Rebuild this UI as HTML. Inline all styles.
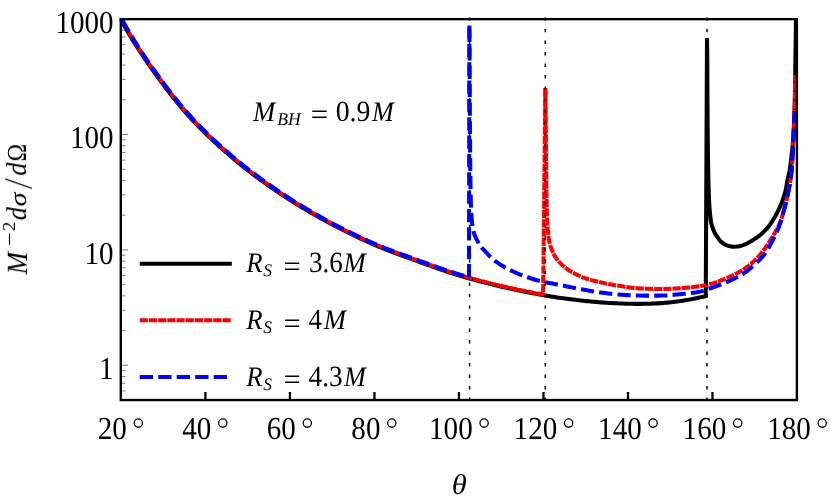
<!DOCTYPE html>
<html><head><meta charset="utf-8"><title>plot</title>
<style>html,body{margin:0;padding:0;background:#fff;}body{width:830px;height:502px;position:relative;overflow:hidden;font-family:"Liberation Serif",serif;}</style>
</head><body>
<svg width="830" height="502" viewBox="0 0 830 502" style="position:absolute;left:0;top:0">
<rect x="0" y="0" width="830" height="502" fill="#fff"/>
<path d="M121.80 365.31 h6.2 M121.80 330.58 h3.6 M121.80 310.26 h3.6 M121.80 295.84 h3.6 M121.80 284.66 h3.6 M121.80 275.53 h3.6 M121.80 267.80 h3.6 M121.80 261.11 h3.6 M121.80 255.21 h3.6 M121.80 249.93 h6.2 M121.80 215.19 h3.6 M121.80 194.87 h3.6 M121.80 180.46 h3.6 M121.80 169.27 h3.6 M121.80 160.14 h3.6 M121.80 152.41 h3.6 M121.80 145.72 h3.6 M121.80 139.82 h3.6 M121.80 134.54 h6.2 M121.80 99.80 h3.6 M121.80 79.48 h3.6 M121.80 65.07 h3.6 M121.80 53.89 h3.6 M121.80 44.75 h3.6 M121.80 37.02 h3.6 M121.80 30.33 h3.6 M121.80 24.43 h3.6 M121.80 390.91 h3.6 M121.80 383.19 h3.6 M121.80 376.50 h3.6 M121.80 370.59 h3.6" stroke="#444" stroke-width="0.7" fill="none"/>
<defs><clipPath id="c"><rect x="119.6" y="17.9" width="678.5" height="383.3"/></clipPath></defs>
<g clip-path="url(#c)" fill="none" stroke-linejoin="miter" stroke-miterlimit="2">
<path d="M120.08 18.16 L122.08 21.85 L124.08 25.45 L126.09 28.97 L128.09 32.42 L130.10 35.79 L132.10 39.10 L134.11 42.34 L136.11 45.52 L138.12 48.64 L140.12 51.71 L142.13 54.74 L144.13 57.72 L146.13 60.67 L148.14 63.58 L150.14 66.45 L152.14 69.29 L154.15 72.11 L156.15 74.90 L158.15 77.66 L160.15 80.39 L162.16 83.10 L164.16 85.77 L166.16 88.43 L168.17 91.05 L170.17 93.64 L172.18 96.20 L174.18 98.73 L176.18 101.22 L178.19 103.68 L180.19 106.09 L182.20 108.47 L184.21 110.81 L186.21 113.11 L188.22 115.37 L190.22 117.58 L192.23 119.76 L194.24 121.89 L196.24 124.00 L198.25 126.07 L200.25 128.11 L202.26 130.14 L204.26 132.13 L206.27 134.10 L208.27 136.05 L210.28 137.98 L212.28 139.88 L214.28 141.76 L216.29 143.62 L218.29 145.45 L220.30 147.27 L222.30 149.06 L224.31 150.84 L226.31 152.59 L228.31 154.33 L230.32 156.04 L232.32 157.74 L234.33 159.42 L236.33 161.08 L238.34 162.73 L240.34 164.35 L242.34 165.97 L244.35 167.56 L246.35 169.14 L248.36 170.70 L250.36 172.24 L252.36 173.77 L254.37 175.29 L256.37 176.79 L258.38 178.28 L260.38 179.75 L262.38 181.20 L264.39 182.65 L266.39 184.08 L268.40 185.49 L270.40 186.89 L272.40 188.28 L274.41 189.66 L276.41 191.02 L278.41 192.38 L280.42 193.71 L282.42 195.04 L284.43 196.36 L286.43 197.66 L288.43 198.95 L290.44 200.23 L292.44 201.49 L294.44 202.75 L296.45 204.00 L298.45 205.23 L300.45 206.45 L302.46 207.67 L304.46 208.87 L306.47 210.06 L308.47 211.24 L310.47 212.41 L312.48 213.57 L314.48 214.72 L316.48 215.86 L318.49 216.99 L320.49 218.11 L322.49 219.22 L324.50 220.32 L326.50 221.41 L328.50 222.49 L330.51 223.56 L332.51 224.62 L334.51 225.68 L336.52 226.72 L338.52 227.75 L340.52 228.78 L342.53 229.80 L344.53 230.81 L346.53 231.80 L348.54 232.79 L350.54 233.78 L352.54 234.75 L354.55 235.71 L356.55 236.67 L358.55 237.62 L360.56 238.55 L362.56 239.48 L364.56 240.41 L366.57 241.32 L368.57 242.23 L370.57 243.12 L372.58 244.01 L374.59 244.88 L376.59 245.73 L378.60 246.57 L380.60 247.39 L382.61 248.20 L384.61 249.00 L386.62 249.79 L388.62 250.56 L390.63 251.33 L392.63 252.09 L394.63 252.84 L396.64 253.58 L398.64 254.32 L400.64 255.05 L402.64 255.78 L404.64 256.51 L406.64 257.24 L408.64 257.96 L410.64 258.68 L412.64 259.41 L414.64 260.13 L416.64 260.86 L418.64 261.58 L420.64 262.31 L422.64 263.03 L424.64 263.76 L426.64 264.48 L428.64 265.21 L430.64 265.93 L432.65 266.65 L434.65 267.37 L436.65 268.08 L438.65 268.79 L440.65 269.49 L442.66 270.18 L444.66 270.87 L446.67 271.54 L448.67 272.21 L450.68 272.87 L452.68 273.51 L454.69 274.14 L456.69 274.76 L458.70 275.37 L460.71 275.96 L462.71 276.54 L464.71 277.12 L466.72 277.68 L468.72 278.24 L470.72 278.80 L472.72 279.35 L474.73 279.89 L476.73 280.43 L478.73 280.96 L480.73 281.49 L482.74 282.01 L484.74 282.53 L486.74 283.04 L488.74 283.54 L490.75 284.04 L492.75 284.54 L494.75 285.02 L496.76 285.51 L498.76 285.98 L500.76 286.45 L502.76 286.92 L504.77 287.38 L506.77 287.84 L508.77 288.28 L510.77 288.73 L512.78 289.17 L514.78 289.60 L516.78 290.03 L518.78 290.45 L520.79 290.87 L522.79 291.28 L524.79 291.69 L526.80 292.09 L528.80 292.48 L530.80 292.87 L532.80 293.25 L534.81 293.63 L536.81 294.01 L538.81 294.37 L540.81 294.73 L542.82 295.09 L544.82 295.44 L546.82 295.78 L548.83 296.12 L550.83 296.45 L552.84 296.77 L554.84 297.08 L556.84 297.39 L558.85 297.69 L560.85 297.98 L562.85 298.27 L564.86 298.55 L566.86 298.82 L568.86 299.08 L570.87 299.34 L572.87 299.59 L574.88 299.83 L576.88 300.06 L578.88 300.29 L580.89 300.51 L582.89 300.73 L584.89 300.94 L586.90 301.14 L588.90 301.33 L590.90 301.52 L592.91 301.70 L594.91 301.88 L596.91 302.04 L598.92 302.21 L600.92 302.36 L602.92 302.51 L604.93 302.65 L606.93 302.78 L608.94 302.91 L610.94 303.03 L612.94 303.14 L614.95 303.25 L616.95 303.35 L618.95 303.44 L620.96 303.52 L622.96 303.60 L624.97 303.66 L626.97 303.72 L628.98 303.77 L630.98 303.81 L632.99 303.84 L634.99 303.86 L637.00 303.87 L639.00 303.87 L641.01 303.86 L643.01 303.84 L645.02 303.81 L647.03 303.77 L649.03 303.71 L651.04 303.65 L653.05 303.57 L655.05 303.47 L657.06 303.37 L659.07 303.25 L661.07 303.12 L663.08 302.97 L665.09 302.80 L667.10 302.63 L669.10 302.43 L671.11 302.23 L673.12 302.00 L675.13 301.76 L677.14 301.51 L679.15 301.23 L681.15 300.94 L683.16 300.64 L685.17 300.31 L687.18 299.98 L689.19 299.62 L691.19 299.25 L693.20 298.86 L695.21 298.46 L697.22 298.04 L699.23 297.60 L701.24 297.14 L703.25 296.66 L705.25 296.17 L705.76 296.04 L707.00 38.00 L707.30 60.00 L707.30 61.51 L707.30 63.02 L707.31 64.54 L707.31 66.05 L707.31 67.56 L707.32 69.07 L707.32 70.58 L707.33 72.10 L707.33 73.61 L707.34 75.12 L707.34 76.63 L707.35 78.14 L707.36 79.66 L707.36 81.17 L707.37 82.68 L707.38 84.19 L707.38 85.70 L707.39 87.22 L707.40 88.73 L707.41 90.24 L707.41 91.75 L707.42 93.26 L707.43 94.78 L707.44 96.29 L707.45 97.80 L707.46 99.31 L707.47 100.82 L707.48 102.33 L707.49 103.85 L707.50 105.36 L707.51 106.87 L707.52 108.38 L707.53 109.89 L707.54 111.41 L707.55 112.92 L707.56 114.43 L707.57 115.94 L707.58 117.45 L707.59 118.97 L707.60 120.48 L707.61 121.99 L707.63 123.50 L707.64 125.01 L707.65 126.53 L707.66 128.04 L707.68 129.55 L707.69 131.06 L707.70 132.57 L707.72 134.09 L707.73 135.60 L707.75 137.11 L707.76 138.62 L707.78 140.13 L707.79 141.64 L707.81 143.16 L707.83 144.67 L707.85 146.18 L707.87 147.69 L707.88 149.20 L707.90 150.72 L707.92 152.23 L707.94 153.74 L707.97 155.25 L707.99 156.76 L708.01 158.28 L708.03 159.79 L708.05 161.30 L708.08 162.81 L708.10 164.32 L708.13 165.83 L708.15 167.35 L708.18 168.86 L708.21 170.37 L708.23 171.88 L708.26 173.39 L708.29 174.90 L708.32 176.42 L708.36 177.93 L708.39 179.44 L708.43 180.95 L708.47 182.47 L708.50 183.98 L708.55 185.49 L708.59 187.00 L708.64 188.51 L708.68 190.03 L708.73 191.54 L708.79 193.05 L708.84 194.56 L708.90 196.07 L708.96 197.58 L709.02 199.09 L709.09 200.60 L709.16 202.11 L709.23 203.62 L709.31 205.13 L709.40 206.63 L709.52 208.14 L709.65 209.65 L709.80 211.15 L709.96 212.66 L710.11 214.16 L710.27 215.67 L710.41 217.18 L710.56 218.69 L710.74 220.19 L710.95 221.68 L711.23 223.15 L711.61 224.62 L712.06 226.07 L712.54 227.51 L713.02 228.95 L713.53 230.38 L714.10 231.77 L714.77 233.11 L715.56 234.40 L716.42 235.66 L717.29 236.90 L718.15 238.15 L719.02 239.41 L719.95 240.60 L720.98 241.67 L722.15 242.65 L723.40 243.53 L724.69 244.29 L726.05 244.99 L727.46 245.58 L728.89 246.00 L730.37 246.36 L731.87 246.62 L733.38 246.70 L734.89 246.65 L736.40 246.55 L737.91 246.41 L739.39 246.17 L740.86 245.79 L742.32 245.37 L743.75 244.89 L745.17 244.35 L746.55 243.75 L747.90 243.07 L749.23 242.34 L750.54 241.59 L751.83 240.80 L753.11 239.98 L754.37 239.15 L755.64 238.32 L756.90 237.48 L758.14 236.61 L759.35 235.71 L760.52 234.77 L761.66 233.77 L762.77 232.74 L763.85 231.67 L764.91 230.59 L765.96 229.50 L766.99 228.39 L767.99 227.25 L768.94 226.08 L769.83 224.87 L770.69 223.63 L771.51 222.36 L772.32 221.07 L773.13 219.79 L773.93 218.51 L774.72 217.22 L775.49 215.92 L776.22 214.60 L776.91 213.25 L777.59 211.90 L778.24 210.54 L778.90 209.17 L779.55 207.81 L780.18 206.43 L780.78 205.05 L781.35 203.65 L781.90 202.23 L782.42 200.81 L782.91 199.39 L783.39 197.95 L783.87 196.51 L784.32 195.07 L784.76 193.62 L785.17 192.16 L785.54 190.70 L785.87 189.23 L786.16 187.75 L786.42 186.26 L786.67 184.77 L786.92 183.27 L787.17 181.78 L787.44 180.29 L787.75 178.81 L788.08 177.33 L788.43 175.86 L788.78 174.39 L789.12 172.91 L789.44 171.44 L789.71 169.95 L789.95 168.46 L790.17 166.97 L790.38 165.47 L790.58 163.97 L790.76 162.47 L790.95 160.97 L791.13 159.46 L791.30 157.96 L791.48 156.46 L791.66 154.96 L791.84 153.46 L792.01 151.95 L792.18 150.45 L792.33 148.95 L792.48 147.44 L792.62 145.94 L792.75 144.43 L792.86 142.92 L792.97 141.42 L793.07 139.91 L793.17 138.40 L793.27 136.89 L793.36 135.38 L793.45 133.87 L793.54 132.36 L793.63 130.85 L793.72 129.34 L793.81 127.83 L793.89 126.32 L793.98 124.81 L794.05 123.30 L794.12 121.79 L794.19 120.28 L794.25 118.77 L794.30 117.26 L794.36 115.75 L794.41 114.24 L794.46 112.73 L794.51 111.22 L794.56 109.71 L794.60 108.19 L794.64 106.68 L794.68 105.17 L794.72 103.66 L794.75 102.15 L794.79 100.64 L794.82 99.13 L794.85 97.61 L794.88 96.10 L794.90 94.59 L794.93 93.08 L794.96 91.57 L794.98 90.06 L795.01 88.54 L795.03 87.03 L795.05 85.52 L795.07 84.01 L795.10 82.50 L795.12 80.98 L795.14 79.47 L795.16 77.96 L795.18 76.45 L795.20 74.94 L795.22 73.43 L795.24 71.91 L795.26 70.40 L795.28 68.89 L795.30 67.38 L795.32 65.87 L795.34 64.35 L795.36 62.84 L795.38 61.33 L795.40 59.82 L795.43 58.31 L795.45 56.79 L795.47 55.28 L795.49 53.77 L795.51 52.26 L795.54 50.75 L795.56 49.24 L795.58 47.72 L795.60 46.21 L795.63 44.70 L795.65 43.19 L795.67 41.68 L795.69 40.17 L795.71 38.65 L795.74 37.14 L795.76 35.63 L795.78 34.12 L795.80 32.61 L795.82 31.09 L795.85 29.58 L795.87 28.07 L795.89 26.56 L795.91 25.05 L795.93 23.54 L795.96 22.02 L795.98 20.51 L796.00 19.00" stroke="#000" stroke-width="4.05"/>
<path d="M120.65 17.85 L122.65 21.53 L124.65 25.13 L126.65 28.65 L128.66 32.09 L130.66 35.46 L132.66 38.76 L134.66 41.99 L136.66 45.17 L138.66 48.29 L140.67 51.36 L142.67 54.38 L144.67 57.36 L146.67 60.30 L148.67 63.21 L150.67 66.08 L152.67 68.92 L154.67 71.73 L156.68 74.51 L158.68 77.27 L160.68 80.00 L162.68 82.71 L164.68 85.38 L166.68 88.03 L168.68 90.65 L170.68 93.24 L172.69 95.80 L174.69 98.32 L176.69 100.81 L178.69 103.26 L180.69 105.68 L182.70 108.05 L184.70 110.39 L186.70 112.68 L188.70 114.93 L190.70 117.15 L192.71 119.32 L194.71 121.45 L196.71 123.54 L198.71 125.61 L200.72 127.66 L202.72 129.68 L204.72 131.67 L206.72 133.64 L208.72 135.59 L210.72 137.51 L212.73 139.41 L214.73 141.28 L216.73 143.14 L218.73 144.97 L220.73 146.78 L222.73 148.58 L224.74 150.35 L226.74 152.10 L228.74 153.83 L230.74 155.55 L232.74 157.24 L234.74 158.92 L236.75 160.58 L238.75 162.22 L240.75 163.85 L242.75 165.46 L244.75 167.05 L246.75 168.62 L248.75 170.18 L250.76 171.73 L252.76 173.26 L254.76 174.77 L256.76 176.27 L258.76 177.75 L260.76 179.22 L262.77 180.68 L264.77 182.12 L266.77 183.55 L268.77 184.96 L270.77 186.36 L272.77 187.75 L274.77 189.12 L276.78 190.49 L278.78 191.84 L280.78 193.17 L282.78 194.50 L284.78 195.81 L286.78 197.11 L288.78 198.40 L290.79 199.68 L292.79 200.94 L294.79 202.20 L296.79 203.44 L298.79 204.68 L300.79 205.90 L302.79 207.11 L304.79 208.31 L306.80 209.50 L308.80 210.68 L310.80 211.85 L312.80 213.01 L314.80 214.15 L316.80 215.29 L318.80 216.42 L320.81 217.54 L322.81 218.65 L324.81 219.75 L326.81 220.84 L328.81 221.92 L330.81 222.99 L332.81 224.05 L334.81 225.10 L336.82 226.14 L338.82 227.18 L340.82 228.20 L342.82 229.22 L344.82 230.22 L346.82 231.22 L348.82 232.21 L350.82 233.19 L352.83 234.16 L354.83 235.13 L356.83 236.08 L358.83 237.03 L360.83 237.96 L362.83 238.89 L364.83 239.82 L366.83 240.73 L368.84 241.63 L370.84 242.53 L372.84 243.41 L374.84 244.28 L376.84 245.13 L378.85 245.97 L380.85 246.79 L382.85 247.60 L384.85 248.40 L386.85 249.18 L388.86 249.96 L390.86 250.72 L392.86 251.48 L394.86 252.23 L396.86 252.97 L398.86 253.71 L400.86 254.44 L402.86 255.17 L404.86 255.90 L406.86 256.62 L408.86 257.35 L410.86 258.07 L412.86 258.80 L414.86 259.52 L416.86 260.24 L418.86 260.97 L420.86 261.70 L422.86 262.42 L424.86 263.15 L426.86 263.87 L428.86 264.60 L430.86 265.32 L432.86 266.04 L434.87 266.76 L436.87 267.47 L438.87 268.17 L440.87 268.87 L442.87 269.57 L444.87 270.25 L446.87 270.93 L448.87 271.59 L450.88 272.25 L452.88 272.89 L454.88 273.52 L456.88 274.14 L458.89 274.75 L460.89 275.34 L462.89 275.92 L464.89 276.49 L466.89 277.06 L468.89 277.62 L470.89 278.17 L472.89 278.72 L474.90 279.27 L476.90 279.80 L478.90 280.34 L480.90 280.86 L482.90 281.38 L484.90 281.90 L486.90 282.41 L488.90 282.91 L490.90 283.41 L492.90 283.90 L494.91 284.39 L496.91 284.87 L498.91 285.35 L500.91 285.82 L502.91 286.29 L504.91 286.75 L506.91 287.20 L508.91 287.65 L510.91 288.09 L512.91 288.53 L514.92 288.97 L516.92 289.39 L518.92 289.81 L520.92 290.23 L522.92 290.64 L524.92 291.05 L526.92 291.45 L528.92 291.84 L530.92 292.23 L532.93 292.62 L534.93 292.99 L536.93 293.37 L538.93 293.73 L540.93 294.09 L542.93 294.45 L543.13 294.48 L545.35 88.00" stroke="#f00" stroke-width="4.05" stroke-dasharray="8.2 1.05" stroke-dashoffset="1.8"/>
<path d="M545.35 88.00 L545.60 110.00 L545.62 111.86 L545.64 113.73 L545.66 115.59 L545.67 117.46 L545.69 119.32 L545.71 121.19 L545.73 123.05 L545.75 124.92 L545.77 126.78 L545.79 128.65 L545.81 130.51 L545.82 132.38 L545.84 134.24 L545.86 136.11 L545.88 137.97 L545.90 139.84 L545.92 141.70 L545.94 143.57 L545.95 145.43 L545.97 147.29 L545.99 149.16 L546.01 151.02 L546.03 152.89 L546.05 154.75 L546.06 156.62 L546.08 158.48 L546.10 160.35 L546.11 162.21 L546.13 164.08 L546.14 165.94 L546.16 167.81 L546.18 169.67 L546.19 171.54 L546.21 173.40 L546.23 175.27 L546.25 177.13 L546.27 179.00 L546.29 180.86 L546.31 182.73 L546.33 184.59 L546.35 186.45 L546.38 188.32 L546.40 190.18 L546.43 192.05 L546.46 193.91 L546.49 195.78 L546.52 197.64 L546.56 199.51 L546.59 201.37 L546.63 203.24 L546.67 205.10 L546.72 206.97 L546.77 208.83 L546.82 210.69 L546.88 212.56 L546.95 214.42 L547.02 216.28 L547.11 218.15 L547.20 220.01 L547.29 221.87 L547.40 223.73 L547.51 225.60 L547.63 227.46 L547.77 229.32 L547.93 231.18 L548.10 233.03 L548.29 234.89 L548.52 236.74 L548.78 238.59 L549.08 240.43 L549.46 242.25 L549.93 244.06 L550.46 245.84 L551.07 247.61 L551.74 249.35 L552.43 251.09 L553.15 252.82 L553.94 254.50 L554.84 256.12 L555.87 257.68 L556.98 259.20 L558.13 260.66 L559.34 262.08 L560.62 263.45 L561.94 264.76 L563.32 266.01 L564.75 267.22 L566.22 268.38 L567.73 269.47 L569.27 270.51 L570.86 271.48 L572.48 272.41 L574.13 273.30 L575.79 274.15 L577.46 274.98 L579.15 275.78 L580.85 276.56 L582.58 277.28 L584.31 277.93 L586.07 278.53 L587.84 279.09 L589.63 279.62 L591.43 280.13 L593.24 280.61 L595.05 281.07 L596.87 281.51 L598.69 281.93 L600.50 282.34 L602.32 282.74 L604.14 283.13 L605.97 283.51 L607.80 283.88 L609.63 284.24 L611.47 284.58 L613.31 284.91 L615.15 285.23 L616.99 285.54 L618.83 285.82 L620.67 286.10 L622.51 286.37 L624.36 286.65 L626.21 286.92 L628.06 287.18 L629.91 287.44 L631.76 287.67 L633.62 287.88 L635.47 288.07 L637.33 288.23 L639.19 288.36 L641.04 288.45 L642.90 288.54 L644.77 288.62 L646.63 288.70 L648.49 288.77 L650.36 288.83 L652.23 288.89 L654.09 288.93 L655.96 288.97 L657.82 288.99 L659.69 289.00 L661.55 288.99 L663.42 288.97 L665.28 288.92 L667.14 288.86 L669.01 288.79 L670.87 288.70 L672.74 288.61 L674.60 288.51 L676.46 288.40 L678.32 288.30 L680.18 288.19 L682.04 288.07 L683.91 287.94 L685.77 287.80 L687.63 287.64 L689.49 287.46 L691.35 287.28 L693.21 287.07 L695.06 286.85 L696.91 286.62 L698.75 286.38 L700.59 286.11 L702.42 285.80 L704.26 285.44 L706.08 285.03 L707.90 284.59 L709.71 284.12 L711.51 283.64 L713.29 283.13 L715.07 282.56 L716.83 281.96 L718.59 281.32 L720.34 280.65 L722.08 279.97 L723.81 279.28 L725.53 278.57 L727.25 277.84 L728.96 277.09 L730.66 276.31 L732.34 275.51 L734.02 274.69 L735.69 273.86 L737.36 273.01 L739.01 272.14 L740.65 271.24 L742.26 270.30 L743.83 269.31 L745.36 268.27 L746.87 267.18 L748.35 266.03 L749.81 264.85 L751.23 263.63 L752.63 262.38 L753.98 261.11 L755.31 259.82 L756.62 258.49 L757.90 257.13 L759.15 255.74 L760.38 254.32 L761.58 252.88 L762.75 251.42 L763.88 249.95 L764.98 248.46 L766.05 246.94 L767.09 245.39 L768.10 243.82 L769.10 242.23 L770.08 240.64 L771.05 239.05 L772.03 237.45 L773.01 235.87 L774.00 234.28 L774.97 232.68 L775.93 231.07 L776.84 229.45 L777.70 227.80 L778.51 226.13 L779.27 224.43 L779.98 222.70 L780.65 220.96 L781.28 219.20 L781.85 217.43 L782.40 215.65 L782.92 213.86 L783.43 212.06 L783.93 210.26 L784.43 208.46 L784.92 206.66 L785.39 204.86 L785.86 203.05 L786.31 201.24 L786.73 199.43 L787.14 197.61 L787.53 195.79 L787.91 193.96 L788.28 192.13 L788.64 190.30 L789.00 188.47 L789.35 186.64 L789.70 184.81 L790.03 182.97 L790.33 181.13 L790.60 179.29 L790.86 177.44 L791.10 175.59 L791.33 173.74 L791.53 171.88 L791.70 170.03 L791.85 168.17 L791.99 166.31 L792.12 164.45 L792.25 162.59 L792.37 160.73 L792.48 158.87 L792.59 157.01 L792.69 155.14 L792.79 153.28 L792.89 151.42 L792.98 149.55 L793.07 147.69 L793.16 145.83 L793.25 143.96 L793.33 142.10 L793.42 140.24 L793.50 138.38 L793.57 136.51 L793.65 134.65 L793.72 132.79 L793.79 130.92 L793.86 129.06 L793.93 127.20 L794.00 125.33 L794.07 123.47 L794.14 121.60 L794.21 119.74 L794.28 117.88 L794.35 116.01 L794.43 114.15 L794.50 112.29 L794.57 110.42 L794.64 108.56 L794.71 106.70 L794.77 104.83 L794.82 102.97 L794.87 101.10 L794.92 99.24 L794.96 97.38 L795.00 95.51 L795.04 93.65 L795.07 91.78 L795.11 89.92 L795.14 88.05 L795.17 86.19 L795.20 84.32 L795.23 82.46 L795.25 80.59 L795.27 78.73 L795.29 76.87 L795.30 75.00" stroke="#f00" stroke-width="4.05" stroke-dasharray="8.2 1.05"/>
<path d="M121.00 17.66 L123.00 21.34 L125.00 24.94 L127.00 28.45 L129.00 31.89 L131.00 35.25 L133.00 38.55 L135.00 41.78 L137.00 44.95 L139.00 48.07 L141.00 51.14 L143.00 54.16 L145.00 57.14 L147.00 60.07 L149.00 62.98 L151.00 65.85 L153.00 68.69 L155.00 71.50 L157.00 74.28 L159.00 77.04 L161.00 79.77 L163.00 82.47 L165.00 85.14 L167.00 87.79 L169.00 90.41 L171.00 93.00 L173.00 95.55 L175.00 98.07 L177.00 100.56 L179.00 103.01 L181.00 105.42 L183.00 107.79 L185.00 110.12 L187.00 112.42 L189.00 114.67 L191.00 116.88 L193.00 119.04 L195.00 121.17 L197.00 123.27 L199.00 125.34 L201.00 127.38 L203.00 129.39 L205.00 131.39 L207.00 133.35 L209.00 135.30 L211.00 137.22 L213.00 139.12 L215.00 140.99 L217.00 142.84 L219.00 144.68 L221.00 146.49 L223.00 148.28 L225.00 150.05 L227.00 151.80 L229.00 153.53 L231.00 155.24 L233.00 156.94 L235.00 158.61 L237.00 160.27 L239.00 161.91 L241.00 163.54 L243.00 165.15 L245.00 166.74 L247.00 168.31 L249.00 169.87 L251.00 171.41 L253.00 172.94 L255.00 174.45 L257.00 175.95 L259.00 177.43 L261.00 178.90 L263.00 180.35 L265.00 181.79 L267.00 183.22 L269.00 184.63 L271.00 186.03 L273.00 187.42 L275.00 188.79 L277.00 190.15 L279.00 191.50 L281.00 192.84 L283.00 194.16 L285.00 195.48 L287.00 196.78 L289.00 198.06 L291.00 199.34 L293.00 200.61 L295.00 201.86 L297.00 203.10 L299.00 204.34 L301.00 205.56 L303.00 206.77 L305.00 207.97 L307.00 209.15 L309.00 210.33 L311.00 211.50 L313.00 212.66 L315.00 213.81 L317.00 214.94 L319.00 216.07 L321.00 217.19 L323.00 218.30 L325.00 219.40 L327.00 220.49 L329.00 221.56 L331.00 222.63 L333.00 223.69 L335.00 224.75 L337.00 225.79 L339.00 226.82 L341.00 227.85 L343.00 228.86 L345.00 229.87 L347.00 230.86 L349.00 231.85 L351.00 232.83 L353.00 233.80 L355.00 234.77 L357.00 235.72 L359.00 236.67 L361.00 237.60 L363.00 238.53 L365.00 239.45 L367.00 240.36 L369.00 241.27 L371.00 242.16 L373.00 243.04 L375.00 243.91 L377.00 244.76 L379.00 245.60 L381.00 246.42 L383.00 247.23 L385.00 248.02 L387.00 248.81 L389.00 249.58 L391.00 250.35 L393.00 251.10 L395.00 251.85 L397.00 252.60 L399.00 253.33 L401.00 254.07 L403.00 254.80 L405.00 255.52 L407.00 256.25 L409.00 256.97 L411.00 257.70 L413.00 258.42 L415.00 259.14 L417.00 259.87 L419.00 260.59 L421.00 261.32 L423.00 262.05 L425.00 262.77 L427.00 263.50 L429.00 264.22 L431.00 264.94 L433.00 265.66 L435.00 266.38 L437.00 267.09 L439.00 267.80 L441.00 268.50 L443.00 269.19 L445.00 269.87 L447.00 270.55 L449.00 271.21 L451.00 271.87 L453.00 272.51 L455.00 273.14 L457.00 273.76 L459.00 274.36 L461.00 274.96 L463.00 275.53 L465.00 276.11 L467.00 276.67 L469.00 277.23" stroke="#00f" stroke-width="4.05" stroke-dasharray="13.3 5.2" stroke-dashoffset="15.7"/>
<path d="M469.00 277.23 L469.40 25.00" stroke="#00f" stroke-width="4.05" stroke-dasharray="13.2 5.15"/>
<path d="M469.40 25.00 L469.60 60.00 L469.61 61.61 L469.61 63.23 L469.62 64.84 L469.62 66.46 L469.63 68.07 L469.64 69.68 L469.64 71.30 L469.65 72.91 L469.66 74.52 L469.66 76.14 L469.67 77.75 L469.68 79.37 L469.68 80.98 L469.69 82.59 L469.70 84.21 L469.71 85.82 L469.72 87.43 L469.72 89.05 L469.73 90.66 L469.74 92.28 L469.75 93.89 L469.76 95.50 L469.77 97.12 L469.78 98.73 L469.78 100.34 L469.79 101.96 L469.80 103.57 L469.81 105.19 L469.82 106.80 L469.83 108.41 L469.84 110.03 L469.85 111.64 L469.86 113.25 L469.87 114.87 L469.88 116.48 L469.89 118.09 L469.90 119.71 L469.91 121.32 L469.92 122.94 L469.93 124.55 L469.94 126.16 L469.95 127.78 L469.96 129.39 L469.97 131.00 L469.98 132.62 L469.99 134.23 L470.00 135.85 L470.01 137.46 L470.03 139.07 L470.04 140.69 L470.05 142.30 L470.06 143.91 L470.07 145.53 L470.09 147.14 L470.10 148.76 L470.11 150.37 L470.13 151.98 L470.14 153.60 L470.15 155.21 L470.17 156.82 L470.18 158.44 L470.20 160.05 L470.21 161.67 L470.23 163.28 L470.25 164.89 L470.26 166.51 L470.28 168.12 L470.30 169.73 L470.32 171.35 L470.33 172.96 L470.35 174.58 L470.37 176.19 L470.39 177.80 L470.41 179.42 L470.44 181.03 L470.46 182.64 L470.48 184.26 L470.51 185.87 L470.54 187.49 L470.57 189.10 L470.59 190.71 L470.63 192.33 L470.66 193.94 L470.69 195.55 L470.73 197.17 L470.77 198.78 L470.81 200.39 L470.86 202.00 L470.90 203.62 L470.96 205.23 L471.02 206.85 L471.09 208.46 L471.16 210.08 L471.24 211.69 L471.33 213.30 L471.42 214.91 L471.53 216.52 L471.64 218.13 L471.76 219.73 L471.90 221.34 L472.08 222.96 L472.28 224.57 L472.51 226.18 L472.77 227.78 L473.06 229.36 L473.37 230.93 L473.75 232.47 L474.27 233.99 L474.89 235.50 L475.55 236.99 L476.21 238.46 L476.90 239.92 L477.65 241.35 L478.43 242.76 L479.24 244.17 L480.10 245.55 L481.01 246.88 L482.03 248.10 L483.20 249.22 L484.35 250.37 L485.43 251.56 L486.50 252.78 L487.57 253.99 L488.67 255.16 L489.81 256.30 L490.99 257.40 L492.19 258.48 L493.42 259.53 L494.68 260.54 L495.96 261.52 L497.26 262.48 L498.59 263.41 L499.93 264.31 L501.28 265.18 L502.65 266.02 L504.05 266.84 L505.46 267.64 L506.88 268.41 L508.30 269.16 L509.74 269.89 L511.19 270.60 L512.65 271.29 L514.12 271.97 L515.59 272.62 L517.07 273.26 L518.56 273.89 L520.05 274.50 L521.56 275.09 L523.07 275.66 L524.58 276.21 L526.10 276.74 L527.63 277.27 L529.16 277.79 L530.70 278.30 L532.24 278.80 L533.78 279.28 L535.33 279.74 L536.88 280.18 L538.44 280.60 L539.99 281.00 L541.56 281.37 L543.13 281.73 L544.70 282.07 L546.28 282.39 L547.87 282.71 L549.45 283.01 L551.04 283.31 L552.63 283.60 L554.22 283.90 L555.81 284.19 L557.40 284.49 L558.98 284.80 L560.57 285.11 L562.15 285.43 L563.73 285.76 L565.31 286.08 L566.89 286.40 L568.47 286.73 L570.05 287.05 L571.64 287.37 L573.22 287.69 L574.80 288.01 L576.38 288.32 L577.97 288.62 L579.55 288.92 L581.14 289.21 L582.73 289.50 L584.32 289.80 L585.90 290.09 L587.49 290.38 L589.08 290.66 L590.67 290.94 L592.26 291.22 L593.86 291.48 L595.45 291.74 L597.04 291.98 L598.64 292.21 L600.24 292.43 L601.83 292.64 L603.43 292.85 L605.04 293.06 L606.64 293.26 L608.24 293.46 L609.85 293.64 L611.45 293.82 L613.06 294.00 L614.66 294.16 L616.27 294.30 L617.88 294.44 L619.49 294.56 L621.09 294.68 L622.70 294.79 L624.31 294.90 L625.92 295.01 L627.53 295.12 L629.15 295.22 L630.76 295.31 L632.37 295.40 L633.98 295.47 L635.60 295.53 L637.21 295.57 L638.82 295.59 L640.44 295.60 L642.05 295.60 L643.66 295.60 L645.28 295.60 L646.89 295.60 L648.51 295.60 L650.12 295.60 L651.74 295.60 L653.35 295.60 L654.96 295.60 L656.58 295.60 L658.19 295.60 L659.80 295.60 L661.41 295.59 L663.03 295.55 L664.64 295.48 L666.25 295.40 L667.86 295.29 L669.47 295.17 L671.08 295.04 L672.69 294.89 L674.30 294.74 L675.91 294.59 L677.52 294.43 L679.12 294.28 L680.73 294.13 L682.34 293.98 L683.95 293.82 L685.56 293.66 L687.17 293.48 L688.78 293.30 L690.39 293.10 L692.00 292.90 L693.60 292.67 L695.19 292.43 L696.78 292.18 L698.36 291.91 L699.93 291.61 L701.49 291.27 L703.04 290.85 L704.58 290.37 L706.11 289.85 L707.64 289.29 L709.16 288.73 L710.69 288.17 L712.21 287.63 L713.73 287.09 L715.25 286.55 L716.77 286.00 L718.28 285.44 L719.79 284.87 L721.30 284.28 L722.80 283.69 L724.29 283.08 L725.78 282.46 L727.26 281.82 L728.74 281.17 L730.22 280.50 L731.68 279.82 L733.13 279.13 L734.58 278.41 L736.02 277.69 L737.47 276.95 L738.91 276.20 L740.33 275.42 L741.73 274.62 L743.10 273.78 L744.44 272.91 L745.75 271.99 L747.04 271.03 L748.32 270.03 L749.57 269.00 L750.81 267.95 L752.03 266.88 L753.23 265.80 L754.42 264.72 L755.61 263.62 L756.80 262.52 L757.98 261.40 L759.15 260.26 L760.28 259.10 L761.39 257.91 L762.46 256.71 L763.47 255.48 L764.43 254.22 L765.36 252.92 L766.25 251.59 L767.11 250.22 L767.95 248.83 L768.76 247.42 L769.56 246.00 L770.34 244.58 L771.11 243.15 L771.88 241.73 L772.64 240.31 L773.40 238.88 L774.14 237.45 L774.87 236.00 L775.59 234.55 L776.28 233.09 L776.96 231.62 L777.60 230.15 L778.22 228.66 L778.81 227.17 L779.38 225.65 L779.93 224.13 L780.46 222.61 L780.96 221.07 L781.44 219.53 L781.90 217.99 L782.32 216.43 L782.74 214.87 L783.14 213.31 L783.55 211.74 L783.95 210.18 L784.37 208.62 L784.79 207.06 L785.21 205.50 L785.62 203.94 L786.02 202.38 L786.41 200.81 L786.77 199.24 L787.13 197.67 L787.47 196.09 L787.80 194.51 L788.12 192.93 L788.44 191.35 L788.75 189.76 L789.05 188.18 L789.36 186.59 L789.66 185.01 L789.95 183.42 L790.22 181.83 L790.47 180.23 L790.69 178.64 L790.91 177.04 L791.12 175.44 L791.31 173.83 L791.49 172.23 L791.65 170.62 L791.78 169.02 L791.91 167.41 L792.03 165.80 L792.14 164.19 L792.25 162.58 L792.36 160.97 L792.45 159.36 L792.55 157.75 L792.64 156.14 L792.73 154.52 L792.81 152.91 L792.89 151.30 L792.97 149.69 L793.05 148.07 L793.13 146.46 L793.21 144.85 L793.28 143.24 L793.35 141.63 L793.42 140.01 L793.48 138.40 L793.54 136.79 L793.59 135.17 L793.65 133.56 L793.71 131.95 L793.76 130.34 L793.82 128.72 L793.88 127.11 L793.95 125.50 L794.02 123.89 L794.09 122.27 L794.17 120.66 L794.25 119.05 L794.35 117.44 L794.45 115.83 L794.57 114.22 L794.68 112.61 L794.80 111.00" stroke="#00f" stroke-width="4.05" stroke-dasharray="13.2 5.2" stroke-dashoffset="14.5"/>
</g>
<path d="M469.6 401 V17" stroke="#000" stroke-width="1.5" stroke-dasharray="3.4 8.12" fill="none"/>
<path d="M545.3 401 V17" stroke="#000" stroke-width="1.5" stroke-dasharray="3.4 8.12" fill="none"/>
<path d="M707.0 401 V17" stroke="#000" stroke-width="1.5" stroke-dasharray="3.4 8.12" fill="none"/>
<rect x="120.80" y="19.15" width="676.10" height="380.90" fill="none" stroke="#000" stroke-width="2.4"/>
<path d="M205.41 400.05 v-8.0 M289.93 400.05 v-8.0 M374.44 400.05 v-8.0 M458.95 400.05 v-8.0 M543.46 400.05 v-8.0 M627.98 400.05 v-8.0 M712.49 400.05 v-8.0" stroke="#000" stroke-width="2.3" fill="none"/>
<path d="M139.7 263.75 H231.8" stroke="#000" stroke-width="4.05" fill="none"/>
<path d="M139.7 320.2 H231.8" stroke="#f00" stroke-width="4.05" stroke-dasharray="8.15 1.05" fill="none"/>
<path d="M139.7 377 H231.8" stroke="#00f" stroke-width="4.05" stroke-dasharray="13.3 5.2" fill="none"/>
<g font-family="'Liberation Serif', serif" fill="#000" style="opacity:0.999;text-rendering:geometricPrecision">
<text transform="translate(113.60 32.75) scale(0.9120 1)" font-size="31.90" text-anchor="end" >1000</text>
<text transform="translate(113.60 148.14) scale(0.9120 1)" font-size="31.90" text-anchor="end" >100</text>
<text transform="translate(113.60 263.53) scale(0.9120 1)" font-size="31.90" text-anchor="end" >10</text>
<text transform="translate(113.60 378.91) scale(0.9120 1)" font-size="31.90" text-anchor="end" >1</text>
<text transform="translate(97.81 439.00) scale(0.9090 1)" font-size="32.00" text-anchor="start" >20</text>
<circle cx="138.3" cy="423.1" r="4.15" fill="none" stroke="#000" stroke-width="1.3"/>
<text transform="translate(182.32 439.00) scale(0.9090 1)" font-size="32.00" text-anchor="start" >40</text>
<circle cx="222.8" cy="423.1" r="4.15" fill="none" stroke="#000" stroke-width="1.3"/>
<text transform="translate(266.83 439.00) scale(0.9090 1)" font-size="32.00" text-anchor="start" >60</text>
<circle cx="307.3" cy="423.1" r="4.15" fill="none" stroke="#000" stroke-width="1.3"/>
<text transform="translate(351.34 439.00) scale(0.9090 1)" font-size="32.00" text-anchor="start" >80</text>
<circle cx="391.8" cy="423.1" r="4.15" fill="none" stroke="#000" stroke-width="1.3"/>
<text transform="translate(429.08 439.00) scale(0.9090 1)" font-size="32.00" text-anchor="start" >100</text>
<circle cx="484.1" cy="423.1" r="4.15" fill="none" stroke="#000" stroke-width="1.3"/>
<text transform="translate(513.60 439.00) scale(0.9090 1)" font-size="32.00" text-anchor="start" >120</text>
<circle cx="568.6" cy="423.1" r="4.15" fill="none" stroke="#000" stroke-width="1.3"/>
<text transform="translate(598.11 439.00) scale(0.9090 1)" font-size="32.00" text-anchor="start" >140</text>
<circle cx="653.1" cy="423.1" r="4.15" fill="none" stroke="#000" stroke-width="1.3"/>
<text transform="translate(682.62 439.00) scale(0.9090 1)" font-size="32.00" text-anchor="start" >160</text>
<circle cx="737.7" cy="423.1" r="4.15" fill="none" stroke="#000" stroke-width="1.3"/>
<text transform="translate(767.13 439.00) scale(0.9090 1)" font-size="32.00" text-anchor="start" >180</text>
<circle cx="822.2" cy="423.1" r="4.15" fill="none" stroke="#000" stroke-width="1.3"/>
<text transform="translate(451.87 493.80) scale(1.0654 1.0000)" font-size="28.70" font-style="italic">θ</text>
<g transform="translate(26 275.2) rotate(-90)">
<text transform="translate(0.72 0.50) scale(0.9171 1.0000)" font-size="29.60" font-style="italic">M</text>
<path d="M30.4 -16.5 H41.6" stroke="#000" stroke-width="1.15" fill="none"/>
<text transform="translate(44.11 -11.50) scale(1.0362 1.0000)" font-size="18.30">2</text>
<text transform="translate(55.09 -0.20) scale(0.9193 1.0000)" font-size="28.50" font-style="italic">d</text>
<text transform="translate(68.76 -0.10) scale(1.1717 1.0000)" font-size="24.00" font-style="italic">σ</text>
<path d="M86.8 5.9 L96.2 -20.8" stroke="#000" stroke-width="1.25" fill="none"/>
<text transform="translate(99.49 -0.20) scale(0.9193 1.0000)" font-size="28.50" font-style="italic">d</text>
<text transform="translate(113.69 -0.30) scale(0.8589 1.0000)" font-size="27.50">Ω</text>
</g>
<text transform="translate(253.02 121.00) scale(0.9469 1.0000)" font-size="28.20" font-style="italic">M</text>
<text transform="translate(277.30 125.30) scale(0.9817 1.0000)" font-size="18.00" font-style="italic">BH</text>
<text transform="translate(310.75 124.40) scale(1.0557 1.0000)" font-size="29.30">=</text>
<text transform="translate(335.73 121.00) scale(0.9484 1.0000)" font-size="29.30">0.9</text>
<text transform="translate(372.11 121.00) scale(0.9274 1.0000)" font-size="28.20" font-style="italic">M</text>
<text transform="translate(246.32 272.40) scale(0.9475 1.0000)" font-size="28.20" font-style="italic">R</text>
<text transform="translate(263.30 276.20) scale(0.9971 1.0000)" font-size="17.60" font-style="italic">S</text>
<text transform="translate(283.47 275.80) scale(1.0412 1.0000)" font-size="29.30">=</text>
<text transform="translate(308.93 272.40) scale(0.9226 1.0000)" font-size="29.30">3.6</text>
<text transform="translate(343.42 272.40) scale(0.9469 1.0000)" font-size="28.20" font-style="italic">M</text>
<text transform="translate(246.32 329.15) scale(0.9475 1.0000)" font-size="28.20" font-style="italic">R</text>
<text transform="translate(263.30 332.95) scale(0.9971 1.0000)" font-size="17.60" font-style="italic">S</text>
<text transform="translate(283.47 332.55) scale(1.0412 1.0000)" font-size="29.30">=</text>
<text transform="translate(308.58 329.15) scale(0.9174 1.0000)" font-size="29.30">4</text>
<text transform="translate(323.72 329.15) scale(0.9469 1.0000)" font-size="28.20" font-style="italic">M</text>
<text transform="translate(246.32 385.90) scale(0.9475 1.0000)" font-size="28.20" font-style="italic">R</text>
<text transform="translate(263.30 389.70) scale(0.9971 1.0000)" font-size="17.60" font-style="italic">S</text>
<text transform="translate(283.47 389.30) scale(1.0412 1.0000)" font-size="29.30">=</text>
<text transform="translate(308.57 385.90) scale(0.9305 1.0000)" font-size="29.30">4.3</text>
<text transform="translate(343.91 385.90) scale(0.9274 1.0000)" font-size="28.20" font-style="italic">M</text>
</g>
</svg>
</body></html>
